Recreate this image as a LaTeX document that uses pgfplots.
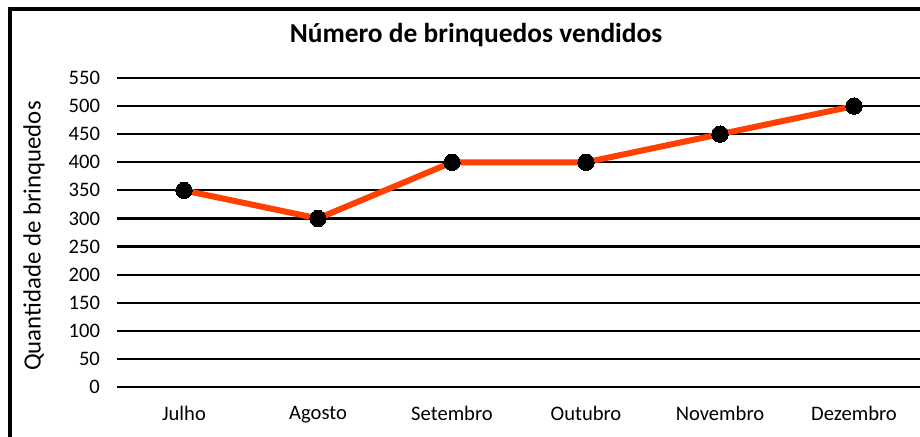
\documentclass[border=0pt]{standalone}
\usepackage{fontspec}
\setmainfont{Carlito}
\usepackage{pgfplots}
\pgfplotsset{compat=1.18}
\definecolor{linered}{RGB}{255,64,0}
\begin{document}
\begin{tikzpicture}[x=0.5pt,y=0.5pt]
\useasboundingbox (0,0) rectangle (920,437);
\clip (0,0) rectangle (920,437);
\fill[white] (0,0) rectangle (920,437);
\draw[line width=1.6pt] (10,-20) -- (10,428) -- (940,428);
\node[font=\bfseries\fontsize{13.7}{16}\selectfont] at (476,402) {Número de brinquedos vendidos};
\node[rotate=90,font=\fontsize{12.4}{14}\selectfont] at (34,201) {Quantidade de brinquedos};
\begin{axis}[
  at={(58.5pt,25pt)}, anchor=south west,
  scale only axis, width=402pt, height=154.5pt,
  xmin=-0.5, xmax=5.5, ymin=0, ymax=550,
  ytick={0,50,...,550},
  xtick={0,1,2,3,4,5},
  xticklabels={Julho,Agosto,Setembro,Outubro,Novembro,Dezembro},
  axis line style={draw=none},
  tick style={draw=none},
  ymajorgrids, xmajorgrids=false,
  major grid style={black, line width=1.1pt},
  /pgf/number format/assume math mode=true,
  ticklabel style={font=\fontsize{10.3}{12}\selectfont},
  yticklabel style={xshift=-5pt},
  xticklabel style={yshift=-6pt},
  clip=false,
]
\addplot[linered, line width=3pt, mark=*, mark size=4.1pt, mark options={fill=black, draw=black, line width=0pt}] coordinates {
(0,350) (1,300) (2,400) (3,400) (4,450) (5,500)};
\end{axis}
\end{tikzpicture}
\end{document}
